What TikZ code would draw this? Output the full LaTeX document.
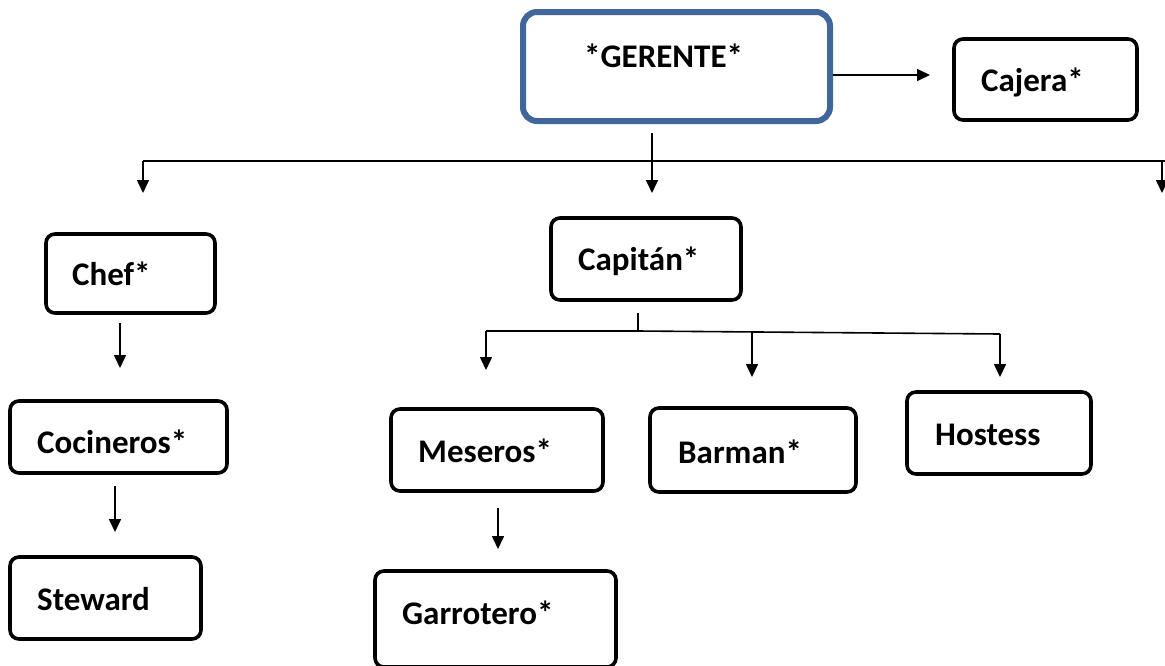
\documentclass[tikz,border=0pt]{standalone}
\usepackage{fontspec}
\setmainfont{Carlito}
\usetikzlibrary{arrows.meta}
\definecolor{gblue}{HTML}{41679A}
\tikzset{
  box/.style={draw=black, line width=3.6pt, rounded corners=9pt, fill=white, inner sep=0pt},
  bossbox/.style={draw=gblue, line width=6pt, rounded corners=14pt, fill=white, inner sep=0pt},
  lbl/.style={anchor=base west, inner sep=0pt, font=\fontsize{33}{36}\selectfont\bfseries},
  conn/.style={line width=1.6pt},
  arr/.style={line width=1.6pt, -{Triangle[length=13pt,width=12pt]}}
}
\begin{document}
\begin{tikzpicture}[x=1pt,y=-1pt]
\useasboundingbox (0,0) rectangle (1165,665);
% boxes
\node[bossbox, minimum width=307pt, minimum height=109pt] (ger) at (676.5,66.5) {};
\node[box, minimum width=183pt, minimum height=81pt] (caj) at (1045.5,79.5) {};
\node[box, minimum width=169pt, minimum height=79pt] (chef) at (130.5,273.5) {};
\node[box, minimum width=217pt, minimum height=72pt] (coc) at (118.5,437) {};
\node[box, minimum width=191pt, minimum height=82pt] (stw) at (105.5,598) {};
\node[box, minimum width=190pt, minimum height=82pt] (cap) at (646,259) {};
\node[box, minimum width=212pt, minimum height=82pt] (mes) at (497,450) {};
\node[box, minimum width=206pt, minimum height=84pt] (bar) at (753,450) {};
\node[box, minimum width=184pt, minimum height=82pt] (hos) at (999,433) {};
\node[box, minimum width=241pt, minimum height=96pt] (gar) at (495.5,619) {};
% labels
\node[lbl] (tger) at (584,67) {*GERENTE*};
\node[lbl] (tcaj) at (981,91) {Cajera*};
\node[lbl] (tchef) at (72,285) {Chef*};
\node[lbl] (tcoc) at (37,453) {Cocineros*};
\node[lbl] (tstw) at (37,610) {Steward};
\node[lbl] (tcap) at (578,270) {Capitán*};
\node[lbl] (tmes) at (418,462) {Meseros*};
\node[lbl] (tbar) at (678,463) {Barman*};
\node[lbl] (thos) at (935,445) {Hostess};
\node[lbl] (tgar) at (402,624) {Garrotero*};
% coordinates
\coordinate (gcaj) at (930,75);
\coordinate (g0) at (652,133);
\coordinate (g1) at (652,193);
\coordinate (hl) at (143,161);
\coordinate (hr) at (1170,161);
\coordinate (la) at (143,193);
\coordinate (ra0) at (1162,161);
\coordinate (ra) at (1162,193);
\coordinate (c0) at (638,313);
\coordinate (c1) at (638,331);
\coordinate (ml) at (486,331);
\coordinate (mr) at (1000,334);
\coordinate (ma) at (486,370);
\coordinate (b0) at (752,332);
\coordinate (ba) at (752,377);
\coordinate (ha) at (1000,377);
\coordinate (ch0) at (120,323);
\coordinate (ch1) at (120,368);
\coordinate (co0) at (115,486);
\coordinate (co1) at (115,532);
\coordinate (me0) at (498,508);
\coordinate (me1) at (498,549);
% connectors
\draw[arr] (ger.east |- gcaj) -- (gcaj);
\draw[arr] (g0) -- (g1);
\draw[conn] (hr) -- (hl);
\draw[arr] (hl) -- (la);
\draw[arr] (ra0) -- (ra);
\draw[conn] (c0) -- (c1);
\draw[conn] (ml) -- (c1) -- (mr);
\draw[arr] (ml) -- (ma);
\draw[arr] (b0) -- (ba);
\draw[arr] (mr) -- (ha);
\draw[arr] (ch0) -- (ch1);
\draw[arr] (co0) -- (co1);
\draw[arr] (me0) -- (me1);
\end{tikzpicture}
\end{document}
